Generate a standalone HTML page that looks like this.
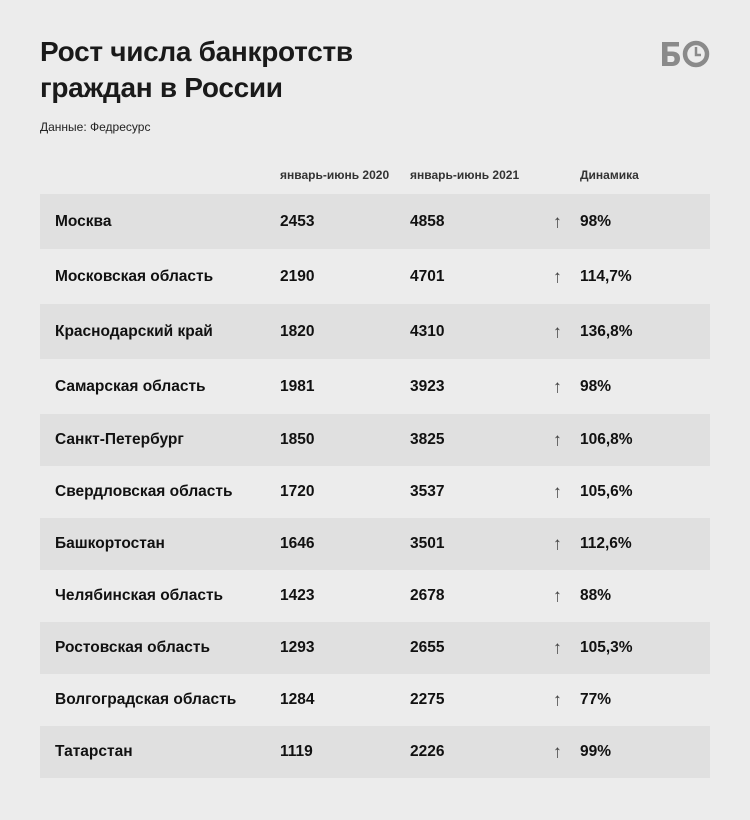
<!DOCTYPE html>
<html><head><meta charset="utf-8"><style>
body{margin:0;background:#ececec;font-family:"Liberation Sans","Noto Sans CJK SC",sans-serif;}
#page{position:relative;width:750px;height:820px;overflow:hidden;background:#ececec;color:#111;}
h1{position:absolute;left:40px;top:34px;margin:0;font-size:28px;line-height:36px;font-weight:bold;color:#1a1a1a;letter-spacing:-0.3px}
.src{position:absolute;left:40px;top:120px;font-size:12px;color:#222}
.hd{position:absolute;top:168px;font-size:12px;font-weight:bold;color:#333}
.row{position:absolute;left:40px;width:670px}
.row.s{background:#e0e0e0}
.row span{position:absolute;font-size:15.5px;font-weight:bold;top:50%;transform:translateY(-50%)}
.row .ar{font-weight:normal;color:#444;font-size:18px}
</style></head><body>
<div id="page">
<h1>Рост числа банкротств<br>граждан в России</h1>
<svg style="position:absolute;left:660px;top:40px" width="52" height="30">
<path d="M2 2h17v4.5H7.5v5H12c5 0 8 2.5 8 7s-3 7.5-8 7.5H2z M7.5 16v6h4c2 0 3-1 3-3s-1-3-3-3z" fill="#8a8a8a"/>
<circle cx="36" cy="14" r="11" fill="none" stroke="#8a8a8a" stroke-width="4.5"/>
<path d="M36 7v8h5" fill="none" stroke="#8a8a8a" stroke-width="2.5"/>
</svg>
<div class="src">Данные: Федресурс</div>
<div class="hd" style="left:280px">январь-июнь 2020</div>
<div class="hd" style="left:410px">январь-июнь 2021</div>
<div class="hd" style="left:580px">Динамика</div>
<div id="rows"></div>
</div>
<script>
const regions=["Москва","Московская область","Краснодарский край","Самарская область","Санкт-Петербург","Свердловская область","Башкортостан","Челябинская область","Ростовская область","Волгоградская область","Татарстан"];
const v2020=[2453,2190,1820,1981,1850,1720,1646,1423,1293,1284,1119];
const v2021=[4858,4701,4310,3923,3825,3537,3501,2678,2655,2275,2226];
const dyn=["98%","114,7%","136,8%","98%","106,8%","105,6%","112,6%","88%","105,3%","77%","99%"];
const tops=[194,249,304,359,414,466,518,570,622,674,726];
const c=document.getElementById('rows');
regions.forEach((r,i)=>{
 const d=document.createElement('div');
 d.className='row'+(i%2==0?' s':'');
 d.style.top=tops[i]+'px';
 d.style.height=(i<4?55:52)+'px';
 
 
 d.innerHTML=`<span style="left:15px">${r}</span><span style="left:240px">${v2020[i]}</span><span style="left:370px">${v2021[i]}</span><span class="ar" style="left:513px">↑</span><span style="left:540px">${dyn[i]}</span>`;
 c.appendChild(d);
});
</script>
</body></html>
